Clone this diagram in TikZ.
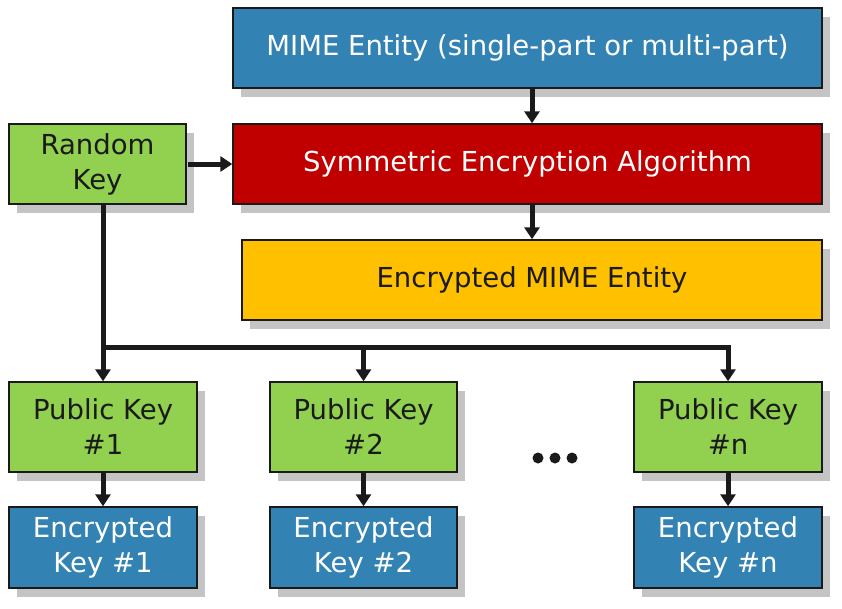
\documentclass[tikz,border=0pt]{standalone}
\usepackage{fontspec}
\setmainfont{DejaVu Sans}
\usetikzlibrary{shadows,arrows.meta}
\definecolor{cblue}{RGB}{51,130,180}
\definecolor{cred}{RGB}{192,0,0}
\definecolor{cgreen}{RGB}{146,208,80}
\definecolor{cyellow}{RGB}{255,192,0}
\definecolor{cshadow}{RGB}{196,196,196}
\definecolor{cline}{RGB}{26,26,26}
\tikzset{
  box/.style={draw=cline, line width=1.5pt, inner sep=0pt, align=center,
    font=\fontsize{27.5}{35}\selectfont,
    drop shadow={shadow xshift=8pt, shadow yshift=-9pt, fill=cshadow, opacity=1}},
  bluebox/.style={box, fill=cblue, text=white},
  redbox/.style={box, fill=cred, text=white},
  greenbox/.style={box, fill=cgreen, text=cline},
  yellowbox/.style={box, fill=cyellow, text=cline},
  conn/.style={draw=cline, line width=5pt, -{Triangle[length=12pt,width=15pt]}},
}
\begin{document}
\begin{tikzpicture}[x=1pt,y=-1pt]
\useasboundingbox (0,0) rectangle (842,608);
\node[bluebox, minimum width=589pt, minimum height=80pt] (mime) at (527.5,48) {MIME Entity (single-part or multi-part)};
\node[greenbox, minimum width=177pt, minimum height=80pt] (rk) at (97.5,164) {Random\\Key};
\node[redbox, minimum width=589pt, minimum height=80pt] (sym) at (527.5,164) {Symmetric Encryption Algorithm};
\node[yellowbox, minimum width=580pt, minimum height=80pt] (emime) at (532,280) {Encrypted MIME Entity};
\node[greenbox, minimum width=188pt, minimum height=90pt] (pk1) at (103,427) {Public Key\\\#1};
\node[greenbox, minimum width=187pt, minimum height=90pt] (pk2) at (363.5,427) {Public Key\\\#2};
\node[greenbox, minimum width=188pt, minimum height=90pt] (pkn) at (728,427) {Public Key\\\#n};
\node[bluebox, minimum width=188pt, minimum height=81pt] (ek1) at (103,547.5) {Encrypted\\Key \#1};
\node[bluebox, minimum width=187pt, minimum height=81pt] (ek2) at (363.5,547.5) {Encrypted\\Key \#2};
\node[bluebox, minimum width=188pt, minimum height=81pt] (ekn) at (728,547.5) {Encrypted\\Key \#n};
\coordinate (j) at (103,347);
% connectors
\draw[conn] ([xshift=4.5pt]mime.south) -- ([xshift=4.5pt]sym.north);
\draw[conn] (sym.south -| emime.north) -- (emime.north);
\draw[conn] ([xshift=1.5pt]rk.east) -- (sym.west);
\draw[conn] (pk1.north |- rk.south) -- (pk1.north);
\draw[conn] (j) -| (pkn.north);
\draw[conn] (j -| pk2.north) -- (pk2.north);
\draw[conn] (pk1.south) -- (ek1.north);
\draw[conn] (pk2.south) -- (ek2.north);
\draw[conn] (pkn.south) -- (ekn.north);
% ellipsis
\foreach \xx in {538,555,572} \fill[cline] (\xx,458) circle (5.5pt);
\end{tikzpicture}
\end{document}
